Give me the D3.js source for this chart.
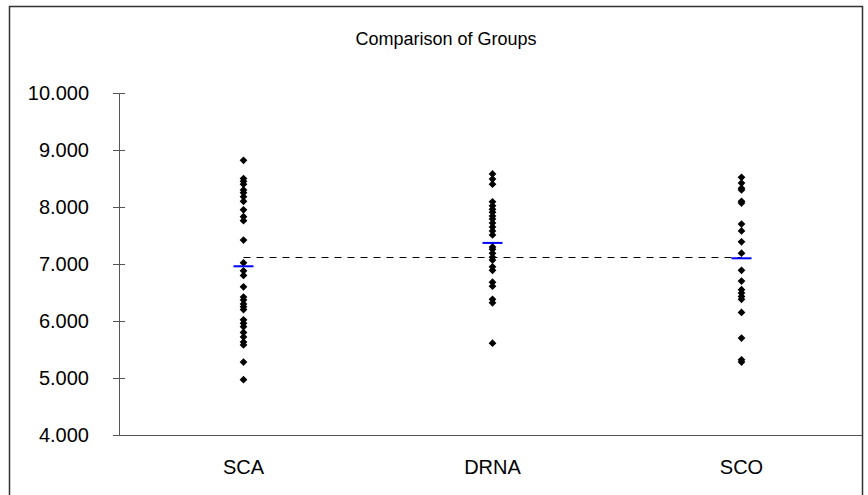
<!DOCTYPE html>
<html><head><meta charset="utf-8">
<script src="https://cdn.jsdelivr.net/npm/d3@7"></script>
<style>body{margin:0;background:#fff}svg{display:block;font-family:"Liberation Sans",Arial,sans-serif}</style>
</head><body><svg id="c" width="868" height="495"></svg>
<script>
const title = "Comparison of Groups";
const categories = ["SCA", "DRNA", "SCO"];
const yTicks = [4, 5, 6, 7, 8, 9, 10];
const scaValues = [8.82, 8.50, 8.45, 8.40, 8.30, 8.25, 8.18, 8.10, 7.95, 7.83, 7.76, 7.42, 7.02, 6.88, 6.80, 6.60, 6.42, 6.37, 6.30, 6.25, 6.20, 6.02, 5.96, 5.90, 5.80, 5.72, 5.63, 5.58, 5.28, 4.97];
const drnaValues = [8.58, 8.49, 8.40, 8.09, 8.02, 7.96, 7.91, 7.84, 7.79, 7.72, 7.65, 7.58, 7.51, 7.30, 7.26, 7.19, 7.12, 7.07, 6.95, 6.89, 6.68, 6.61, 6.38, 6.32, 5.61];
const scoValues = [8.52, 8.42, 8.33, 8.30, 8.10, 8.07, 7.70, 7.58, 7.39, 7.19, 6.89, 6.70, 6.55, 6.49, 6.43, 6.38, 6.15, 5.70, 5.32, 5.28];
const groupMeans = [6.96, 7.37, 7.10];
const grandMean = 7.12;

const svg = d3.select("#c");
const L = 119, R = 866, AxisEnd = 862, T = 93, B = 435;
const x = d3.scaleBand().domain(categories).range([L, R]);
const y = d3.scaleLinear().domain([4, 10]).range([B, T]);

svg.append("rect").attr("x", 9.5).attr("y", 6.5).attr("width", 853).attr("height", 520)
  .attr("fill", "#fff").attr("stroke", "#333").attr("stroke-width", 1.5);

svg.append("text").attr("x", 446).attr("y", 45).attr("text-anchor", "middle")
  .attr("font-size", 18).attr("fill", "#000").text(title);

// y axis
const ya = svg.append("g").attr("transform", `translate(${L},0)`)
  .call(d3.axisLeft(y).tickValues(yTicks).tickFormat(d3.format(".3f")).tickSize(6).tickSizeOuter(0).tickPadding(24));
ya.selectAll(".tick").append("line").attr("x1", 0).attr("x2", 6).attr("stroke", "#555");
ya.selectAll("line").attr("stroke", "#555");
ya.select(".domain").attr("stroke", "#555");
ya.selectAll("text").attr("font-size", 20).attr("fill", "#000").attr("font-family", "Liberation Sans, Arial, sans-serif");

// x axis
const xa = svg.append("g").attr("transform", `translate(0,${B})`)
  .call(d3.axisBottom(x).tickSize(0).tickPadding(25));
xa.select(".domain").attr("stroke", "#555").attr("d", `M${L},0.5H${AxisEnd}`);
xa.selectAll("text").attr("font-size", 20).attr("fill", "#000").attr("font-family", "Liberation Sans, Arial, sans-serif");

// grand mean dashed line
const gy = Math.round(y(grandMean)) + 0.5;
svg.append("line")
  .attr("x1", x("SCA") + x.bandwidth() / 2).attr("x2", x("SCO") + x.bandwidth() / 2)
  .attr("y1", gy).attr("y2", gy)
  .attr("stroke", "#000").attr("stroke-dasharray", "7,6").attr("stroke-width", 1);

const groups = [scaValues, drnaValues, scoValues];
const sym = d3.symbol(d3.symbolSquare, 30);
groups.forEach((vals, i) => {
  const cx = x(categories[i]) + x.bandwidth() / 2;
  svg.append("g").selectAll("path").data(vals).join("path")
    .attr("d", sym)
    .attr("transform", d => `translate(${cx},${y(d)}) rotate(45)`)
    .attr("fill", "#000");
});

// group mean lines
svg.append("g").selectAll("line").data(groupMeans).join("line")
  .attr("x1", (d, i) => x(categories[i]) + x.bandwidth() / 2 - 10)
  .attr("x2", (d, i) => x(categories[i]) + x.bandwidth() / 2 + 10)
  .attr("y1", d => y(d)).attr("y2", d => y(d))
  .attr("stroke", "#0000ff").attr("stroke-width", 2);
</script></body></html>
